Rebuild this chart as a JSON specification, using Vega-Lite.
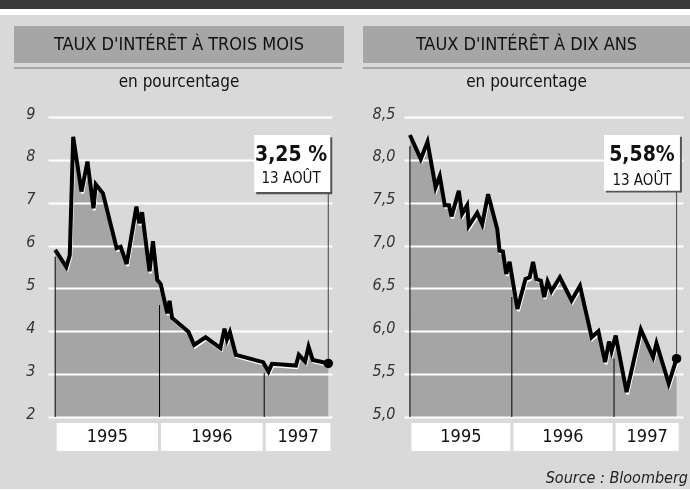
{
  "$schema": "https://vega.github.io/schema/vega-lite/v6.json",
  "background": "#d9d9d9",
  "padding": {"left": 0, "top": 0, "right": 0, "bottom": 3},
  "config": {
    "font": "DejaVu Sans Condensed, DejaVu Sans, sans-serif",
    "view": {"stroke": null},
    "title": {"fontWeight": "normal", "fontSize": 17, "color": "#111111"},
    "axis": {"labelFontStyle": "italic", "labelFontSize": 16, "labelColor": "#333333"}
  },
  "title": {"text": "Source : Bloomberg", "orient": "bottom", "anchor": "end", "fontStyle": "italic", "fontSize": 16, "color": "#222222", "offset": 19, "dx": -2},
  "datasets": {
    "court": [
      {"date": "1995-01-01", "value": 5.90},
      {"date": "1995-02-09", "value": 5.50},
      {"date": "1995-02-21", "value": 5.77},
      {"date": "1995-03-05", "value": 8.54},
      {"date": "1995-04-03", "value": 7.26},
      {"date": "1995-04-24", "value": 7.96},
      {"date": "1995-05-15", "value": 6.87},
      {"date": "1995-05-23", "value": 7.43},
      {"date": "1995-06-17", "value": 7.22},
      {"date": "1995-08-04", "value": 5.94},
      {"date": "1995-08-18", "value": 5.97},
      {"date": "1995-09-08", "value": 5.57},
      {"date": "1995-10-12", "value": 6.91},
      {"date": "1995-10-22", "value": 6.52},
      {"date": "1995-11-01", "value": 6.78},
      {"date": "1995-11-27", "value": 5.40},
      {"date": "1995-12-09", "value": 6.10},
      {"date": "1995-12-24", "value": 5.20},
      {"date": "1996-01-05", "value": 5.10},
      {"date": "1996-01-28", "value": 4.42},
      {"date": "1996-02-05", "value": 4.71},
      {"date": "1996-02-14", "value": 4.31},
      {"date": "1996-04-11", "value": 3.99},
      {"date": "1996-05-01", "value": 3.68},
      {"date": "1996-06-10", "value": 3.86},
      {"date": "1996-08-01", "value": 3.61},
      {"date": "1996-08-15", "value": 4.06},
      {"date": "1996-08-24", "value": 3.81},
      {"date": "1996-09-03", "value": 3.98},
      {"date": "1996-09-24", "value": 3.45},
      {"date": "1996-12-28", "value": 3.28},
      {"date": "1997-01-16", "value": 3.06},
      {"date": "1997-01-28", "value": 3.24},
      {"date": "1997-04-22", "value": 3.20},
      {"date": "1997-05-02", "value": 3.45},
      {"date": "1997-05-24", "value": 3.29},
      {"date": "1997-06-05", "value": 3.64},
      {"date": "1997-06-20", "value": 3.33},
      {"date": "1997-07-18", "value": 3.29},
      {"date": "1997-08-13", "value": 3.25}
    ],
    "long": [
      {"date": "1995-01-01", "value": 8.29},
      {"date": "1995-02-09", "value": 8.01},
      {"date": "1995-03-05", "value": 8.21},
      {"date": "1995-04-03", "value": 7.68},
      {"date": "1995-04-18", "value": 7.81},
      {"date": "1995-05-06", "value": 7.47},
      {"date": "1995-05-21", "value": 7.47},
      {"date": "1995-05-30", "value": 7.34},
      {"date": "1995-06-25", "value": 7.64},
      {"date": "1995-07-07", "value": 7.37},
      {"date": "1995-07-25", "value": 7.47},
      {"date": "1995-07-31", "value": 7.23},
      {"date": "1995-08-30", "value": 7.38},
      {"date": "1995-09-17", "value": 7.25},
      {"date": "1995-10-08", "value": 7.60},
      {"date": "1995-11-10", "value": 7.19},
      {"date": "1995-11-18", "value": 6.94},
      {"date": "1995-11-30", "value": 6.93},
      {"date": "1995-12-12", "value": 6.67},
      {"date": "1995-12-24", "value": 6.81},
      {"date": "1996-01-21", "value": 6.26},
      {"date": "1996-02-19", "value": 6.61},
      {"date": "1996-03-05", "value": 6.63},
      {"date": "1996-03-17", "value": 6.81},
      {"date": "1996-03-29", "value": 6.61},
      {"date": "1996-04-14", "value": 6.59},
      {"date": "1996-04-26", "value": 6.40},
      {"date": "1996-05-08", "value": 6.58},
      {"date": "1996-05-22", "value": 6.47},
      {"date": "1996-06-21", "value": 6.63},
      {"date": "1996-08-02", "value": 6.36},
      {"date": "1996-09-01", "value": 6.53},
      {"date": "1996-10-13", "value": 5.93},
      {"date": "1996-11-06", "value": 6.00},
      {"date": "1996-11-30", "value": 5.64},
      {"date": "1996-12-14", "value": 5.88},
      {"date": "1996-12-23", "value": 5.77},
      {"date": "1997-01-07", "value": 5.95},
      {"date": "1997-02-15", "value": 5.29},
      {"date": "1997-04-07", "value": 6.02},
      {"date": "1997-05-21", "value": 5.70},
      {"date": "1997-06-02", "value": 5.86},
      {"date": "1997-07-16", "value": 5.39},
      {"date": "1997-08-13", "value": 5.68}
    ],
    "sepC": [
      {"date": "1995-01-01", "value": 5.74},
      {"date": "1996-01-01", "value": 4.61},
      {"date": "1997-01-01", "value": 3.03}
    ],
    "sepL": [
      {"date": "1995-01-01", "value": 8.16},
      {"date": "1996-01-01", "value": 6.40},
      {"date": "1997-01-01", "value": 5.68}
    ],
    "noteC": [{"date": "1997-08-13", "value": 3.25, "pct": "3,25 %", "day": "13 AOÛT"}],
    "noteL": [{"date": "1997-08-13", "value": 5.68, "pct": "5,58%", "day": "13 AOÛT"}],
    "years": [
      {"year": "1995", "start": "1995-01-01", "end": "1996-01-01"},
      {"year": "1996", "start": "1996-01-01", "end": "1997-01-01"},
      {"year": "1997", "start": "1997-01-01", "end": "1997-08-26"}
    ]
  },
  "spacing": 11,
  "vconcat": [
    {
      "spacing": 0,
      "vconcat": [
        {"width": 690, "height": 9, "data": {"values": [{}]}, "mark": {"type": "text", "text": "", "fontSize": 0}, "view": {"fill": "#3a3a3a"}},
        {"width": 690, "height": 6, "data": {"values": [{}]}, "mark": {"type": "text", "text": "", "fontSize": 0}, "view": {"fill": "#ffffff"}}
      ]
    },
    {
      "spacing": 13,
      "hconcat": [
        {"width": 1, "height": 1, "data": {"values": [{}]}, "mark": {"type": "text", "text": "", "fontSize": 0}},
        {
          "spacing": 19,
          "hconcat": [
            {
              "spacing": 4,
              "vconcat": [
                {"width": 330, "height": 37, "data": {"values": [{}]}, "mark": {"type": "text", "text": "TAUX D'INTÉRÊT À TROIS MOIS", "fontSize": 18, "color": "#111111"}, "view": {"fill": "#a6a6a6"}},
                {"width": 328, "height": 2, "data": {"values": [{}]}, "mark": {"type": "text", "text": "", "fontSize": 0}, "view": {"fill": "#a6a6a6"}},
                {
                  "spacing": 6,
                  "bounds": "flush",
                  "vconcat": [
                    {
                      "width": 330, "height": 300,
                      "title": {"text": "en pourcentage", "offset": 14},
                      "encoding": {
                        "x": {"field": "date", "type": "temporal", "scale": {"domain": [{"year": 1994, "month": 8, "date": 10}, {"year": 1997, "month": 10, "date": 7}]}, "axis": null},
                        "y": {"field": "value", "type": "quantitative", "scale": {"domain": [2, 9], "zero": false, "nice": false},
                          "axis": {"values": [2, 3, 4, 5, 6, 7, 8, 9], "orient": "left", "offset": -318, "domain": false, "grid": false, "ticks": true, "tickSize": 284, "tickColor": "#ffffff", "tickWidth": 2, "labelPadding": 13, "labelOffset": -4, "title": null, "zindex": 0}}
                      },
                      "layer": [
                        {"data": {"name": "court"}, "mark": {"type": "area", "color": "#6c6c6c", "blend": "color-burn"}, "encoding": {"y2": {"datum": 2}}},
                        {"data": {"name": "court"}, "mark": {"type": "line", "color": "#ffffff", "strokeWidth": 3, "xOffset": 1, "yOffset": 2}},
                        {"data": {"name": "sepC"}, "mark": {"type": "rule", "color": "#000000", "strokeWidth": 1}, "encoding": {"y": {"datum": 2}, "y2": {"field": "value"}}},
                        {"data": {"name": "court"}, "mark": {"type": "line", "color": "#000000", "strokeWidth": 4}},
                        {"data": {"name": "noteC"}, "mark": {"type": "rule", "color": "#444444", "strokeWidth": 1}, "encoding": {"y": {"datum": 7.25}, "y2": {"field": "value"}}},
                        {"data": {"name": "noteC"}, "mark": {"type": "rect", "color": "#555555"}, "encoding": {
                          "x": {"datum": {"year": 1996, "month": 12, "date": 4}, "type": "temporal"},
                          "x2": {"datum": {"year": 1997, "month": 8, "date": 27}},
                          "y": {"datum": 8.53}, "y2": {"datum": 7.20}}},
                        {"data": {"name": "noteC"}, "mark": {"type": "rect", "color": "#ffffff"}, "encoding": {
                          "x": {"datum": {"year": 1996, "month": 11, "date": 27}, "type": "temporal"},
                          "x2": {"datum": {"year": 1997, "month": 8, "date": 20}},
                          "y": {"datum": 8.58}, "y2": {"datum": 7.25}}},
                        {"data": {"name": "noteC"}, "mark": {"type": "text", "fontSize": 21, "fontWeight": "bold", "color": "#111111"}, "encoding": {
                          "x": {"datum": {"year": 1997, "month": 4, "date": 5}, "type": "temporal"},
                          "y": {"datum": 8.11}, "text": {"field": "pct"}}},
                        {"data": {"name": "noteC"}, "mark": {"type": "text", "fontSize": 15, "color": "#111111"}, "encoding": {
                          "x": {"datum": {"year": 1997, "month": 4, "date": 5}, "type": "temporal"},
                          "y": {"datum": 7.58}, "text": {"field": "day"}}},
                        {"data": {"name": "noteC"}, "mark": {"type": "circle", "color": "#000000", "size": 90, "opacity": 1}}
                      ]
                    },
                    {
                      "width": 330, "height": 28,
                      "data": {"name": "years"},
                      "layer": [
                        {"mark": {"type": "rect", "color": "#ffffff", "xOffset": 1.5, "x2Offset": -1.5}, "encoding": {
                          "x": {"field": "start", "type": "temporal", "scale": {"domain": [{"year": 1994, "month": 8, "date": 10}, {"year": 1997, "month": 10, "date": 7}]}, "axis": null},
                          "x2": {"field": "end"}}},
                        {"transform": [{"calculate": "(time(datum.start) + time(datum.end)) / 2", "as": "mid"}],
                         "mark": {"type": "text", "fontSize": 18, "color": "#111111"}, "encoding": {
                          "x": {"field": "mid", "type": "temporal", "scale": {"domain": [{"year": 1994, "month": 8, "date": 10}, {"year": 1997, "month": 10, "date": 7}]}, "axis": null},
                          "text": {"field": "year"}}}
                      ]
                    }
                  ]
                }
              ]
            },
            {
              "spacing": 4,
              "vconcat": [
                {"width": 327, "height": 37, "data": {"values": [{}]}, "mark": {"type": "text", "text": "TAUX D'INTÉRÊT À DIX ANS", "fontSize": 18, "color": "#111111"}, "view": {"fill": "#a6a6a6"}},
                {"width": 327, "height": 2, "data": {"values": [{}]}, "mark": {"type": "text", "text": "", "fontSize": 0}, "view": {"fill": "#a6a6a6"}},
                {
                  "spacing": 6,
                  "bounds": "flush",
                  "vconcat": [
                    {
                      "width": 327, "height": 300,
                      "title": {"text": "en pourcentage", "offset": 14},
                      "encoding": {
                        "x": {"field": "date", "type": "temporal", "scale": {"domain": [{"year": 1994, "month": 7, "date": 17}, {"year": 1997, "month": 9, "date": 30}]}, "axis": null},
                        "y": {"field": "value", "type": "quantitative", "scale": {"domain": [5, 8.5], "zero": false, "nice": false},
                          "axis": {"values": [5, 5.5, 6, 6.5, 7, 7.5, 8, 8.5], "labelExpr": "replace(format(datum.value, '.1f'), '.', ',')", "orient": "left", "offset": -320, "domain": false, "grid": false, "ticks": true, "tickSize": 279, "tickColor": "#ffffff", "tickWidth": 2, "labelPadding": 9, "labelOffset": -4, "title": null, "zindex": 0}}
                      },
                      "layer": [
                        {"data": {"name": "long"}, "mark": {"type": "area", "color": "#6c6c6c", "blend": "color-burn"}, "encoding": {"y2": {"datum": 5}}},
                        {"data": {"name": "long"}, "mark": {"type": "line", "color": "#ffffff", "strokeWidth": 3, "xOffset": 1, "yOffset": 2}},
                        {"data": {"name": "sepL"}, "mark": {"type": "rule", "color": "#000000", "strokeWidth": 1}, "encoding": {"y": {"datum": 5}, "y2": {"field": "value"}}},
                        {"data": {"name": "long"}, "mark": {"type": "line", "color": "#000000", "strokeWidth": 4}},
                        {"data": {"name": "noteL"}, "mark": {"type": "rule", "color": "#444444", "strokeWidth": 1}, "encoding": {"y": {"datum": 7.64}, "y2": {"field": "value"}}},
                        {"data": {"name": "noteL"}, "mark": {"type": "rect", "color": "#555555"}, "encoding": {
                          "x": {"datum": {"year": 1996, "month": 12, "date": 3}, "type": "temporal"},
                          "x2": {"datum": {"year": 1997, "month": 9, "date": 1}},
                          "y": {"datum": 8.27}, "y2": {"datum": 7.62}}},
                        {"data": {"name": "noteL"}, "mark": {"type": "rect", "color": "#ffffff"}, "encoding": {
                          "x": {"datum": {"year": 1996, "month": 11, "date": 26}, "type": "temporal"},
                          "x2": {"datum": {"year": 1997, "month": 8, "date": 25}},
                          "y": {"datum": 8.29}, "y2": {"datum": 7.64}}},
                        {"data": {"name": "noteL"}, "mark": {"type": "text", "fontSize": 21, "fontWeight": "bold", "color": "#111111"}, "encoding": {
                          "x": {"datum": {"year": 1997, "month": 4, "date": 11}, "type": "temporal"},
                          "y": {"datum": 8.06}, "text": {"field": "pct"}}},
                        {"data": {"name": "noteL"}, "mark": {"type": "text", "fontSize": 15, "color": "#111111"}, "encoding": {
                          "x": {"datum": {"year": 1997, "month": 4, "date": 11}, "type": "temporal"},
                          "y": {"datum": 7.77}, "text": {"field": "day"}}},
                        {"data": {"name": "noteL"}, "mark": {"type": "circle", "color": "#000000", "size": 90, "opacity": 1}}
                      ]
                    },
                    {
                      "width": 327, "height": 28,
                      "data": {"name": "years"},
                      "layer": [
                        {"mark": {"type": "rect", "color": "#ffffff", "xOffset": 1.5, "x2Offset": -1.5}, "encoding": {
                          "x": {"field": "start", "type": "temporal", "scale": {"domain": [{"year": 1994, "month": 7, "date": 17}, {"year": 1997, "month": 9, "date": 30}]}, "axis": null},
                          "x2": {"field": "end"}}},
                        {"transform": [{"calculate": "(time(datum.start) + time(datum.end)) / 2", "as": "mid"}],
                         "mark": {"type": "text", "fontSize": 18, "color": "#111111"}, "encoding": {
                          "x": {"field": "mid", "type": "temporal", "scale": {"domain": [{"year": 1994, "month": 7, "date": 17}, {"year": 1997, "month": 9, "date": 30}]}, "axis": null},
                          "text": {"field": "year"}}}
                      ]
                    }
                  ]
                }
              ]
            }
          ]
        }
      ]
    }
  ]
}
